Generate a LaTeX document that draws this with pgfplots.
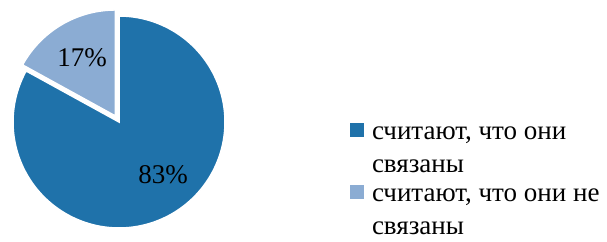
\documentclass[border=0pt]{standalone}
\usepackage{pgfplots}
\pgfplotsset{compat=1.18}
\usepackage{fontspec}
\setmainfont{Liberation Serif}
\definecolor{darkc}{HTML}{1F72AA}
\definecolor{lightc}{HTML}{8BACD3}
\begin{document}
\begin{tikzpicture}
\def\valA{83}
\def\valB{17}
\def\cx{119}
\def\cy{119}
\def\r{106}
\pgfmathsetmacro\endB{90+\valB*3.6}
\pgfmathsetmacro\midB{90+\valB*1.8}
\pgfmathsetmacro\ox{\cx+7*cos(\midB)}
\pgfmathsetmacro\oy{\cy+7*sin(\midB)}
\begin{axis}[x=1pt,y=1pt,xmin=0,xmax=607,ymin=0,ymax=241,
  hide axis,clip=false,
  legend style={at={(axis cs:350,118)},anchor=north west,draw=none,fill=none,
    inner sep=0pt,outer sep=0pt,row sep=44pt,column sep=8pt,
    font=\fontsize{27}{32.5}\selectfont,
    nodes={inner sep=0pt,outer sep=0pt}},
  legend cell align=left,
  legend image code/.code={\fill[#1,draw=none] (0pt,-3pt) rectangle (14pt,11pt);},
]
\path (axis cs:0,0) rectangle (axis cs:607,241);
\addplot[fill=darkc,draw=white,line width=1.5pt,domain=\endB:450,samples=150,variable=\t]
  ({\cx+\r*cos(\t)},{\cy+\r*sin(\t)}) -- (axis cs:\cx,\cy) -- cycle;
\addlegendentry{\parbox[t]{230pt}{\raggedright считают, что они связаны}}
\addplot[fill=lightc,draw=white,line width=1.5pt,domain=90:\endB,samples=40,variable=\t]
  ({\ox+\r*cos(\t)},{\oy+\r*sin(\t)}) -- (axis cs:\ox,\oy) -- cycle;
\addlegendentry{\parbox[t]{230pt}{\raggedright считают, что они не связаны}}
\node[font=\fontsize{27}{33}\selectfont] at (axis cs:163,66) {\valA\%};
\node[font=\fontsize{27}{33}\selectfont] at (axis cs:82,183) {\valB\%};
\end{axis}
\end{tikzpicture}
\end{document}
